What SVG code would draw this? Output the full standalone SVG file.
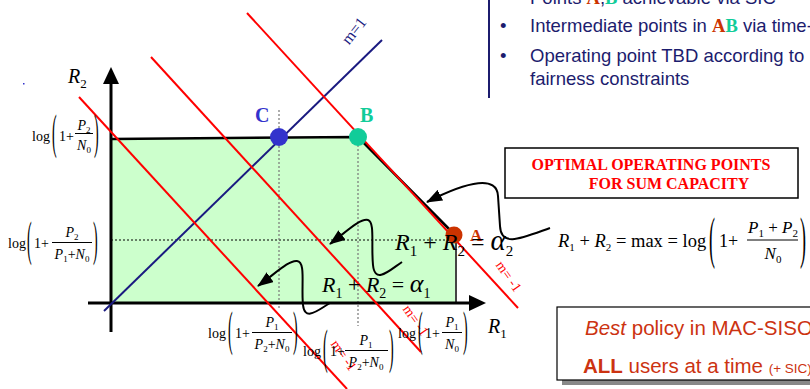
<svg xmlns="http://www.w3.org/2000/svg" width="810" height="389" viewBox="0 0 810 389">
<style>
.m{font-family:"Liberation Serif",serif;font-size:14px;fill:#000}
.it{font-style:italic}
.sb{font-size:9px}
.par{font-family:"Liberation Serif",serif;font-size:14px;fill:#000}
.bar{stroke:#000;stroke-width:1}
.red{stroke:#ff0000;stroke-width:2;fill:none}
.rl{font-family:"Liberation Serif",serif;font-size:14px;fill:#ff0000}
.eq{font-family:"Liberation Serif",serif;font-style:italic;fill:#000}
.nav{font-family:"Liberation Sans",sans-serif;font-size:18.5px;fill:#1c1c6e}
.conn{stroke:#000;stroke-width:2;fill:none;marker-end:url(#ah)}
.dot{stroke:#000;stroke-width:1;stroke-dasharray:2,2;fill:none}
.dotg{stroke:#777;stroke-width:1.2;stroke-dasharray:2,2;fill:none}
.lbl{font-family:"Liberation Serif",serif;font-weight:bold;font-size:20px}
.or{font-family:"Liberation Sans",sans-serif;font-size:20.5px;fill:#cc3311}
.big{font-size:17px}
.bsb{font-size:11px}
</style>
<defs>
<marker id="ah" viewBox="0 0 16 12" refX="15" refY="6" markerWidth="16" markerHeight="12" markerUnits="userSpaceOnUse" orient="auto">
<path d="M0,0 L16,6 L0,12 Z" fill="#000"/>
</marker>
</defs>
<rect width="810" height="389" fill="#fff"/>

<g id="region">
<polygon points="111,139 358,137 455,235 455,303 111,303" fill="#ccffcc"/>
<polyline points="111,139 358,137 455,235" fill="none" stroke="#000" stroke-width="2.5"/>
<line x1="456" y1="235" x2="456" y2="303" stroke="#444" stroke-width="2"/>
</g>

<g id="guides">
<line class="dot" x1="111" y1="240" x2="455" y2="240"/>
<line class="dotg" x1="279" y1="110" x2="279" y2="310"/>
<line class="dotg" x1="358" y1="137" x2="358" y2="326"/>
</g>

<g id="axes">
<line x1="111" y1="332" x2="111" y2="82" stroke="#000" stroke-width="3"/>
<polygon points="111,67 103,84 119,84" fill="#000"/>
<line x1="88" y1="303" x2="470" y2="303" stroke="#000" stroke-width="3"/>
<polygon points="486,303 469,295 469,311" fill="#000"/>
<text x="68" y="83" class="eq" font-size="20">R<tspan font-size="13" dy="5" font-style="normal">2</tspan></text>
<text x="488" y="333" class="eq" font-size="20">R<tspan font-size="13" dy="5" font-style="normal">1</tspan></text>
</g>

<g id="lines">
<line x1="104" y1="311" x2="382" y2="40" stroke="#1a1a80" stroke-width="2"/>
<text transform="translate(358,34) rotate(-52)" text-anchor="middle" style="font-family:'Liberation Serif',serif;font-size:16px;fill:#1a1a80">m=1</text>
<line class="red" x1="247" y1="13" x2="518" y2="308"/>
<line class="red" x1="151" y1="57" x2="421" y2="352"/>
<line class="red" x1="79" y1="97" x2="347" y2="389"/>
<text class="rl" transform="translate(505,279) rotate(55)" text-anchor="middle">m= -1</text>
<text class="rl" transform="translate(412,323) rotate(55)" text-anchor="middle">m= -1</text>
<text class="rl" transform="translate(340,358) rotate(55)" text-anchor="middle">m= -1</text>
</g>

<g id="C">
<circle cx="279" cy="137" r="9" fill="#3333cc"/>
<text x="255" y="122" class="lbl" fill="#3333cc">C</text>
</g>
<g id="B">
<circle cx="358" cy="137" r="9" fill="#11cc99"/>
<text x="360" y="122" class="lbl" fill="#11cc99">B</text>
</g>
<g id="A">
<circle cx="454" cy="235" r="8.5" fill="#cc3300"/>
<text x="470" y="241" class="lbl" style="font-size:17px" fill="#cc3300">A</text>
</g>

<g id="eq2">
<text x="395" y="250" class="eq" font-size="24">R<tspan font-size="15" dy="6" font-style="normal">1</tspan><tspan dy="-6" font-style="normal"> + </tspan>R<tspan font-size="15" dy="6" font-style="normal">2</tspan><tspan dy="-6" font-style="normal"> = </tspan><tspan font-size="29">α</tspan><tspan font-size="15" dy="6" font-style="normal">2</tspan></text>
</g>
<g id="eq1">
<text x="322" y="292" class="eq" font-size="22">R<tspan font-size="14" dy="6" font-style="normal">1</tspan><tspan dy="-6" font-style="normal"> + </tspan>R<tspan font-size="14" dy="6" font-style="normal">2</tspan><tspan dy="-6" font-style="normal"> = </tspan><tspan font-size="26">α</tspan><tspan font-size="14" dy="6" font-style="normal">1</tspan></text>
</g>

<g id="connectors">
<path class="conn" d="M550,228 C522,238 501,248 500,226 L498,196 C497,176 470,180 427,202"/>
<path class="conn" d="M402,262 C390,270 375,285 373,265 C371,245 375,222 368,220 C360,218 346,232 330,244"/>
<path class="conn" d="M330,303 C318,310 305,322 303,305 C301,285 306,262 297,261 C289,260 276,273 258,286"/>
</g>

<g id="ylabel1">
<text x="32" y="141" class="m">log</text>
<text class="par" transform="translate(52,148) scale(1,3.5)">(</text>
<text x="59" y="141" class="m">1+</text>
<text x="84" y="130" class="m" text-anchor="middle"><tspan class="it">P</tspan><tspan class="sb" dy="3">2</tspan></text>
<line class="bar" x1="75" y1="133.5" x2="93" y2="133.5"/>
<text x="84" y="150" class="m" text-anchor="middle"><tspan class="it">N</tspan><tspan class="sb" dy="3">0</tspan></text>
<text class="par" transform="translate(94,148) scale(1,3.5)">)</text>
</g>

<g id="ylabel2">
<text x="8" y="248" class="m">log</text>
<text class="par" transform="translate(27,255) scale(1,3.5)">(</text>
<text x="34" y="248" class="m">1+</text>
<text x="72" y="237" class="m" text-anchor="middle"><tspan class="it">P</tspan><tspan class="sb" dy="3">2</tspan></text>
<line class="bar" x1="52" y1="242.5" x2="92" y2="242.5"/>
<text x="72" y="259" class="m" text-anchor="middle"><tspan class="it">P</tspan><tspan class="sb" dy="3">1</tspan><tspan dy="-3">+</tspan><tspan class="it">N</tspan><tspan class="sb" dy="3">0</tspan></text>
<text class="par" transform="translate(93,255) scale(1,3.5)">)</text>
</g>

<g id="xlabel1">
<text x="208" y="338" class="m">log</text>
<text class="par" transform="translate(228,345) scale(1,3.5)">(</text>
<text x="235" y="338" class="m">1+</text>
<text x="272" y="327" class="m" text-anchor="middle"><tspan class="it">P</tspan><tspan class="sb" dy="3">1</tspan></text>
<line class="bar" x1="252" y1="332.5" x2="292" y2="332.5"/>
<text x="272" y="349" class="m" text-anchor="middle"><tspan class="it">P</tspan><tspan class="sb" dy="3">2</tspan><tspan dy="-3">+</tspan><tspan class="it">N</tspan><tspan class="sb" dy="3">0</tspan></text>
<text class="par" transform="translate(293,345) scale(1,3.5)">)</text>
</g>

<g id="xlabel2">
<text x="303" y="356" class="m">log</text>
<text class="par" transform="translate(323,363) scale(1,3.5)">(</text>
<text x="330" y="356" class="m">1+</text>
<text x="366" y="345" class="m" text-anchor="middle"><tspan class="it">P</tspan><tspan class="sb" dy="3">1</tspan></text>
<line class="bar" x1="345" y1="350.5" x2="388" y2="350.5"/>
<text x="366" y="367" class="m" text-anchor="middle"><tspan class="it">P</tspan><tspan class="sb" dy="3">2</tspan><tspan dy="-3">+</tspan><tspan class="it">N</tspan><tspan class="sb" dy="3">0</tspan></text>
<text class="par" transform="translate(389,363) scale(1,3.5)">)</text>
</g>

<g id="xlabel3">
<text x="398" y="338" class="m">log</text>
<text class="par" transform="translate(418,345) scale(1,3.5)">(</text>
<text x="425" y="338" class="m">1+</text>
<text x="452" y="327" class="m" text-anchor="middle"><tspan class="it">P</tspan><tspan class="sb" dy="3">1</tspan></text>
<line class="bar" x1="442" y1="332.5" x2="462" y2="332.5"/>
<text x="452" y="349" class="m" text-anchor="middle"><tspan class="it">N</tspan><tspan class="sb" dy="3">0</tspan></text>
<text class="par" transform="translate(463,345) scale(1,3.5)">)</text>
</g>

<g id="bullets">
<line x1="489" y1="0" x2="489" y2="98" stroke="#1c1c6e" stroke-width="2"/>
<text x="530" y="4" class="nav">Points <tspan font-family="Liberation Serif" font-weight="bold" fill="#cc3300">A</tspan>,<tspan font-family="Liberation Serif" font-weight="bold" fill="#11cc99">B</tspan> achievable via SIC</text>
<text x="500" y="32" class="nav">•</text>
<text x="530" y="32" class="nav">Intermediate points in <tspan font-family="Liberation Serif" font-weight="bold" fill="#cc3300">A</tspan><tspan font-family="Liberation Serif" font-weight="bold" fill="#11cc99">B</tspan> via time-sharing</text>
<text x="500" y="62" class="nav">•</text>
<text x="530" y="62" class="nav">Operating point TBD according to</text>
<text x="530" y="85" class="nav">fairness constraints</text>
</g>

<g id="optbox">
<rect x="505" y="148" width="293" height="50" fill="#fff" stroke="#000" stroke-width="1.5"/>
<text x="651" y="170" font-family="Liberation Serif" font-weight="bold" font-size="16" fill="#ff0000" text-anchor="middle">OPTIMAL OPERATING POINTS</text>
<text x="669" y="189" font-family="Liberation Serif" font-weight="bold" font-size="16" fill="#ff0000" text-anchor="middle">FOR SUM CAPACITY</text>
</g>

<g id="sumeq">
<text x="558" y="247" class="eq" font-size="18.5">R<tspan font-size="11" dy="4" font-style="normal">1</tspan><tspan dy="-4" font-style="normal"> + </tspan>R<tspan font-size="11" dy="4" font-style="normal">2</tspan><tspan dy="-4" font-style="normal"> = max = log</tspan></text>
<text class="par" style="font-size:18px" transform="translate(709,257) scale(1,3.2)">(</text>
<text x="719" y="247" class="m" style="font-size:18px">1+</text>
<text x="773" y="233" class="m big" text-anchor="middle"><tspan class="it">P</tspan><tspan class="bsb" dy="4">1</tspan><tspan dy="-4"> + </tspan><tspan class="it">P</tspan><tspan class="bsb" dy="4">2</tspan></text>
<line class="bar" x1="747" y1="240" x2="798" y2="240"/>
<text x="773" y="259" class="m big" text-anchor="middle"><tspan class="it">N</tspan><tspan class="bsb" dy="4">0</tspan></text>
<text class="par" style="font-size:18px" transform="translate(800,257) scale(1,3.2)">)</text>
</g>

<g id="policybox">
<rect x="562" y="312" width="260" height="73" fill="#888"/>
<rect x="557" y="307" width="260" height="73" fill="#fff" stroke="#000" stroke-width="1.2"/>
<text x="585" y="335" class="or"><tspan font-style="italic">Best</tspan> policy in MAC-SISO</text>
<text x="583" y="373" class="or"><tspan font-weight="bold">ALL</tspan> users at a time <tspan font-size="13.5">(+ SIC)</tspan></text>
</g>

<rect x="23" y="83" width="1.5" height="1.5" fill="#3333cc"/>
</svg>
